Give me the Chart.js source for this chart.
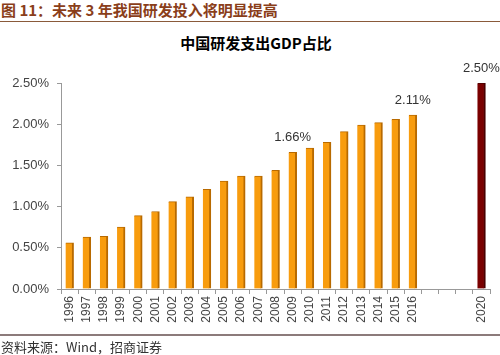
<!DOCTYPE html>
<html>
<head>
<meta charset="utf-8">
<script src="https://cdn.jsdelivr.net/npm/chart.js@4/dist/chart.umd.min.js"></script>
<style>
  html,body{margin:0;padding:0;background:#fff;}
  body{width:500px;height:355px;position:relative;overflow:hidden;font-family:"Liberation Sans",Arial,sans-serif;}
  #hdr{position:absolute;left:1px;top:1px;font:bold 15px "Noto Sans CJK SC",sans-serif;color:#8a3e1a;white-space:nowrap;line-height:18px;}
  #hline{position:absolute;left:0;top:21px;width:500px;height:1px;background:#8a5a3a;}
  #ctitle{position:absolute;left:0;width:512px;top:34px;text-align:center;font:bold 15px "Noto Sans CJK SC",sans-serif;color:#000;line-height:18px;}
  #fline{position:absolute;left:0;top:334px;width:500px;height:2px;background:#8c7b7b;}
  #src{position:absolute;left:1px;top:339px;font:13px "Noto Sans CJK SC","Liberation Sans",sans-serif;color:#333;white-space:nowrap;line-height:15px;}
  #wrap{position:absolute;left:0;top:0;width:500px;height:355px;}
</style>
</head>
<body>
<div id="hdr">图 11：未来 3 年我国研发投入将明显提高</div>
<div id="hline"></div>
<div id="ctitle">中国研发支出GDP占比</div>
<div id="wrap"><canvas id="c" width="500" height="355"></canvas></div>
<div id="fline"></div>
<div id="src">资料来源：Wind，招商证券</div>
<script>
const categories = ['1996','1997','1998','1999','2000','2001','2002','2003','2004','2005','2006','2007','2008','2009','2010','2011','2012','2013','2014','2015','2016','2017','2018','2019','2020'];
const tickLabels = ['1996','1997','1998','1999','2000','2001','2002','2003','2004','2005','2006','2007','2008','2009','2010','2011','2012','2013','2014','2015','2016','','','','2020'];
const rdShare = [0.56,0.63,0.64,0.75,0.89,0.94,1.06,1.12,1.21,1.31,1.37,1.37,1.44,1.66,1.71,1.78,1.91,1.99,2.02,2.06,2.11,null,null,null,2.50];
const labelledYears = ['2009','2016','2020'];
const yTicks = [0,0.5,1.0,1.5,2.0,2.5];

const barColors = categories.map(c => c === '2020' ? '#7a0000' : '#f89c0e');
const borderColors = categories.map(c => c === '2020' ? '#4a0000' : '#b86a00');

const valueLabels = {
  id:'valueLabels',
  afterDatasetsDraw(chart){
    const ctx = chart.ctx;
    const meta = chart.getDatasetMeta(0);
    ctx.save();
    ctx.font = '13px "Liberation Sans", Arial, sans-serif';
    ctx.fillStyle = '#333';
    ctx.textAlign = 'center';
    ctx.textBaseline = 'bottom';
    categories.forEach((c,i)=>{
      if(labelledYears.includes(c) && rdShare[i]!=null){
        const el = meta.data[i];
        ctx.fillText(rdShare[i].toFixed(2)+'%', el.x, el.y - 8);
      }
    });
    ctx.restore();
  }
};

new Chart(document.getElementById('c'), {
  type:'bar',
  data:{
    labels: tickLabels,
    datasets:[{
      data: rdShare,
      backgroundColor: barColors,
      borderColor: borderColors,
      borderWidth: {left:0, top:1, right:2, bottom:0},
      barThickness: 8
    }]
  },
  options:{
    responsive:false,
    animation:false,
    devicePixelRatio:1,
    layout:{padding:{left:0,right:10,top:83,bottom:0}},
    plugins:{legend:{display:false},tooltip:{enabled:false},title:{display:false}},
    scales:{
      x:{
        offset:true,
        grid:{display:true,drawOnChartArea:false,drawTicks:true,tickLength:5,offset:true,color:'#999'},
        border:{display:true,color:'#999',width:1},
        ticks:{autoSkip:false,minRotation:90,maxRotation:90,color:'#444',font:{size:12,family:'"Liberation Sans", Arial, sans-serif'},padding:2},
        afterFit(scale){ scale.height = 66; }
      },
      y:{
        min:0,max:2.5,
        afterBuildTicks(scale){ scale.ticks = yTicks.map(v=>({value:v})); },
        grid:{display:true,drawOnChartArea:false,drawTicks:true,tickLength:4,color:'#999'},
        border:{display:true,color:'#999',width:1},
        ticks:{color:'#444',font:{size:13,family:'"Liberation Sans", Arial, sans-serif'},padding:8,callback:v=>Number(v).toFixed(2)+'%'},
        afterFit(scale){ scale.width = 61; }
      }
    }
  },
  plugins:[valueLabels]
});
</script>
</body>
</html>
